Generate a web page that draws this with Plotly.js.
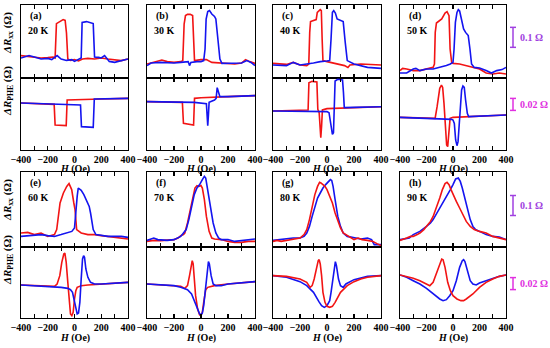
<!DOCTYPE html>
<html><head><meta charset="utf-8">
<script src="https://cdn.plot.ly/plotly-3.0.1.min.js"></script>
<style>html,body{margin:0;padding:0;background:#fff}#chart{width:550px;height:348px}</style>
</head><body><div id="chart"></div>
<script>
// ---------- data (H in Oe, resistance change in Ω) ----------
const panelIds = ['(a)','(b)','(c)','(d)','(e)','(f)','(g)','(h)'];
const temps = ['20 K','30 K','40 K','50 K','60 K','70 K','80 K','90 K'];
const tickVals = [-400,-200,0,200,400];
const tickText = ['\u2212400','\u2212200','0','200','400'];

// (a) 20 K
const H_a_xx_r = [-400,-350,-300,-250,-200,-160,-145,-135,-110,-85,-70,-60,-50,-30,0,30,60,100,150,200,250,300,350,400];
const a_xx_r = [0.112,0.108,0.105,0.100,0.102,0.105,0.100,0.272,0.282,0.292,0.288,0.225,0.095,0.088,0.092,0.085,0.095,0.098,0.095,0.100,0.095,0.092,0.087,0.095];
const H_a_xx_b = [-400,-370,-340,-300,-250,-200,-170,-130,-100,-60,-20,0,30,50,57,90,140,150,180,200,225,240,260,300,350,400];
const a_xx_b = [0.100,0.105,0.112,0.105,0.095,0.098,0.092,0.112,0.095,0.088,0.092,0.083,0.092,0.100,0.278,0.282,0.272,0.105,0.103,0.100,0.112,0.098,0.083,0.078,0.088,0.095];
const H_a_phe_r = [-400,-152,-145,-62,-55,0,200,400];
const a_phe_r = [0.0783,0.0761,0.0417,0.0406,0.0833,0.0839,0.0850,0.0861];
const H_a_phe_b = [-400,-200,0,45,52,140,148,200,400];
const a_phe_b = [0.0783,0.0772,0.0761,0.0750,0.0389,0.0378,0.0850,0.0850,0.0861];

// (b) 30 K
const H_b_xx_r = [-400,-350,-290,-250,-200,-150,-135,-125,-115,-100,-80,-62,-55,-48,0,40,80,150,250,300,330,360,400];
const b_xx_r = [0.070,0.078,0.090,0.082,0.078,0.082,0.087,0.270,0.312,0.318,0.318,0.312,0.195,0.087,0.092,0.092,0.078,0.075,0.070,0.075,0.092,0.082,0.073];
const H_b_xx_b = [-400,-370,-300,-200,-150,-95,-85,-75,-30,0,20,30,38,50,63,80,100,110,125,140,155,200,300,340,370,400];
const b_xx_b = [0.062,0.075,0.078,0.075,0.078,0.082,0.062,0.078,0.082,0.082,0.087,0.145,0.295,0.332,0.337,0.320,0.308,0.295,0.195,0.095,0.073,0.073,0.075,0.087,0.078,0.062];
const H_b_phe_r = [-400,-138,-130,-55,-48,0,200,400];
const b_phe_r = [0.0806,0.0794,0.0444,0.0417,0.0861,0.0872,0.0889,0.0906];
const H_b_phe_b = [-400,-50,40,45,50,55,60,100,112,120,128,140,200,400];
const b_phe_b = [0.0806,0.0794,0.0772,0.0583,0.0406,0.0583,0.0794,0.0833,0.0861,0.1039,0.0972,0.0889,0.0889,0.0906];

// (c) 40 K
const H_c_xx_r = [-400,-300,-250,-200,-150,-135,-128,-122,-80,-72,-50,-42,-36,-30,0,40,80,130,155,170,250,400];
const c_xx_r = [0.073,0.068,0.078,0.065,0.062,0.070,0.228,0.282,0.292,0.328,0.342,0.337,0.195,0.087,0.082,0.075,0.070,0.062,0.053,0.065,0.070,0.065];
const H_c_xx_b = [-400,-300,-250,-200,-100,-50,0,20,30,40,50,62,75,100,120,135,150,200,250,300,400];
const c_xx_b = [0.065,0.062,0.078,0.065,0.075,0.082,0.085,0.087,0.195,0.328,0.337,0.325,0.295,0.287,0.282,0.178,0.087,0.070,0.062,0.053,0.048];
const H_c_phe_r = [-400,-150,-140,-134,-110,-75,-68,-58,-52,-46,-40,-34,0,100,200,400];
const c_phe_r = [0.0650,0.0656,0.0667,0.1122,0.1144,0.1133,0.0678,0.0622,0.0289,0.0206,0.0400,0.0667,0.0689,0.0700,0.0711,0.0722];
const H_c_phe_b = [-400,-200,0,15,25,40,48,55,60,80,115,122,128,200,400];
const c_phe_b = [0.0650,0.0644,0.0639,0.0622,0.0456,0.0261,0.0289,0.0678,0.1150,0.1178,0.1167,0.0956,0.0706,0.0711,0.0722];

// (d) 50 K
const H_d_xx_r = [-400,-380,-350,-300,-250,-200,-150,-140,-134,-125,-85,-60,-45,-30,-22,-10,0,50,100,150,200,250,300,350,400];
const d_xx_r = [0.037,0.048,0.045,0.037,0.037,0.045,0.053,0.070,0.228,0.275,0.295,0.325,0.332,0.312,0.145,0.078,0.073,0.070,0.062,0.053,0.045,0.025,0.020,0.025,0.020];
const H_d_xx_b = [-400,-350,-300,-280,-250,-200,-150,-100,-50,-20,0,8,18,30,40,50,65,80,95,115,128,140,160,200,250,290,330,370,400];
const d_xx_b = [0.025,0.025,0.045,0.048,0.037,0.045,0.045,0.053,0.062,0.070,0.078,0.145,0.278,0.328,0.342,0.335,0.295,0.245,0.228,0.212,0.145,0.070,0.053,0.050,0.037,0.025,0.037,0.042,0.053];
const H_d_phe_r = [-400,-150,-135,-120,-100,-87,-78,-68,-58,-48,-40,-32,-22,0,200,400];
const d_phe_r = [0.0544,0.0522,0.0528,0.0722,0.1028,0.1083,0.1044,0.0778,0.0389,0.0083,0.0056,0.0278,0.0528,0.0544,0.0567,0.0583];
const H_d_phe_b = [-400,-200,-50,-10,0,10,20,30,38,45,55,65,75,85,95,108,118,200,400];
const d_phe_b = [0.0544,0.0528,0.0517,0.0511,0.0500,0.0444,0.0167,0.0072,0.0139,0.0389,0.0722,0.1000,0.1067,0.1044,0.0833,0.0611,0.0556,0.0567,0.0583];

// (e) 60 K
const H_e_xx_r = [-400,-350,-300,-250,-200,-150,-133,-120,-108,-83,-58,-41,-21,-5,4,16,30,50,100,150,200,250,300,350,400];
const e_xx_r = [0.070,0.073,0.062,0.070,0.053,0.062,0.087,0.153,0.220,0.270,0.303,0.317,0.287,0.220,0.187,0.087,0.078,0.070,0.062,0.062,0.057,0.053,0.050,0.045,0.040];
const H_e_xx_b = [-400,-300,-250,-200,-150,-100,-50,-20,0,10,20,28,40,50,70,90,110,120,140,160,200,250,300,350,400];
const e_xx_b = [0.053,0.057,0.062,0.057,0.053,0.062,0.070,0.078,0.095,0.187,0.253,0.295,0.290,0.283,0.262,0.228,0.203,0.170,0.087,0.062,0.057,0.053,0.053,0.053,0.048];
const H_e_phe_r = [-400,-150,-130,-110,-95,-80,-72,-62,-50,-40,-30,-20,-10,0,10,20,50,100,200,400];
const e_phe_r = [0.0550,0.0528,0.0567,0.0706,0.0928,0.1067,0.1083,0.0928,0.0594,0.0261,0.0067,0.0039,0.0094,0.0317,0.0456,0.0511,0.0539,0.0550,0.0567,0.0594];
const H_e_phe_b = [-400,-200,-100,-50,-30,-15,0,10,20,30,40,50,60,68,75,85,100,120,150,200,400];
const e_phe_b = [0.0550,0.0528,0.0511,0.0494,0.0472,0.0428,0.0261,0.0122,0.0067,0.0083,0.0261,0.0650,0.0983,0.1039,0.1011,0.0817,0.0678,0.0594,0.0567,0.0567,0.0594];

// (f) 70 K
const H_f_xx_r = [-400,-350,-300,-250,-200,-170,-150,-130,-120,-100,-80,-60,-45,-30,-15,0,10,25,40,60,80,100,150,200,250,300,350,400];
const f_xx_r = [0.028,0.033,0.032,0.033,0.037,0.045,0.057,0.062,0.070,0.120,0.187,0.253,0.295,0.307,0.303,0.307,0.295,0.237,0.153,0.078,0.045,0.040,0.037,0.028,0.023,0.023,0.028,0.028];
const H_f_xx_b = [-400,-350,-320,-250,-200,-150,-130,-110,-90,-70,-50,-30,-10,10,25,35,45,60,70,90,110,130,150,200,250,300,350,400];
const f_xx_b = [0.033,0.045,0.037,0.033,0.037,0.053,0.070,0.087,0.137,0.203,0.262,0.295,0.312,0.337,0.353,0.345,0.303,0.237,0.187,0.120,0.070,0.045,0.037,0.037,0.028,0.033,0.037,0.040];
const H_f_phe_r = [-400,-300,-200,-150,-120,-100,-85,-75,-65,-58,-50,-40,-25,-10,0,10,20,35,50,80,100,200,400];
const f_phe_r = [0.0567,0.0556,0.0539,0.0528,0.0494,0.0539,0.0706,0.0872,0.0956,0.0900,0.0650,0.0372,0.0150,0.0050,0.0050,0.0094,0.0261,0.0472,0.0511,0.0528,0.0539,0.0567,0.0606];
const H_f_phe_b = [-400,-200,-150,-100,-70,-50,-30,-10,0,10,20,35,45,55,62,75,90,110,150,200,400];
const f_phe_b = [0.0567,0.0539,0.0511,0.0472,0.0400,0.0289,0.0150,0.0067,0.0050,0.0083,0.0206,0.0539,0.0817,0.0939,0.0900,0.0706,0.0567,0.0539,0.0539,0.0567,0.0606];

// (g) 80 K
const H_g_xx_r = [-400,-370,-340,-300,-270,-250,-200,-170,-150,-130,-110,-90,-70,-55,-45,-30,-15,0,20,40,60,80,100,120,140,160,180,200,230,260,300,340,370,400];
const g_xx_r = [0.028,0.033,0.028,0.033,0.037,0.037,0.045,0.062,0.087,0.137,0.203,0.262,0.303,0.323,0.320,0.312,0.303,0.287,0.253,0.220,0.170,0.128,0.095,0.070,0.062,0.053,0.045,0.037,0.045,0.037,0.033,0.028,0.017,0.007];
const H_g_xx_b = [-400,-350,-300,-250,-200,-170,-150,-130,-110,-90,-70,-50,-30,-10,10,25,35,45,60,80,100,120,150,200,250,300,330,350,400];
const g_xx_b = [0.033,0.037,0.040,0.045,0.045,0.053,0.070,0.103,0.153,0.203,0.245,0.270,0.295,0.312,0.328,0.337,0.333,0.303,0.237,0.153,0.103,0.070,0.053,0.045,0.040,0.045,0.037,0.012,0.012];
const H_g_phe_r = [-400,-300,-200,-150,-125,-110,-95,-80,-65,-58,-50,-40,-30,-15,0,20,40,60,80,100,150,200,250,300,400];
const g_phe_r = [0.0706,0.0694,0.0650,0.0594,0.0511,0.0539,0.0650,0.0817,0.0956,0.0972,0.0900,0.0706,0.0428,0.0261,0.0194,0.0178,0.0194,0.0261,0.0344,0.0428,0.0539,0.0606,0.0650,0.0678,0.0706];
const H_g_phe_b = [-400,-300,-200,-150,-100,-80,-60,-40,-20,0,20,30,45,55,62,70,85,100,120,140,200,300,400];
const g_phe_b = [0.0706,0.0678,0.0606,0.0539,0.0428,0.0344,0.0272,0.0206,0.0178,0.0206,0.0289,0.0428,0.0706,0.0900,0.0939,0.0872,0.0650,0.0539,0.0511,0.0567,0.0639,0.0694,0.0706];

// (h) 90 K
const H_h_xx_r = [-400,-380,-350,-320,-300,-270,-250,-220,-200,-170,-150,-120,-100,-80,-60,-45,-30,-15,0,25,50,75,100,130,160,200,250,300,350,400];
const h_xx_r = [0.033,0.037,0.045,0.053,0.053,0.062,0.070,0.087,0.103,0.128,0.153,0.203,0.245,0.287,0.317,0.323,0.312,0.287,0.262,0.228,0.195,0.162,0.128,0.103,0.087,0.078,0.070,0.053,0.045,0.037];
const H_h_xx_b = [-400,-370,-330,-300,-250,-200,-170,-150,-120,-100,-70,-40,-20,0,20,40,55,70,90,110,130,150,170,200,250,300,350,400];
const h_xx_b = [0.037,0.040,0.045,0.062,0.078,0.103,0.120,0.137,0.170,0.195,0.228,0.262,0.287,0.312,0.340,0.345,0.328,0.295,0.237,0.187,0.137,0.103,0.087,0.078,0.062,0.053,0.050,0.037];
const H_h_phe_r = [-400,-350,-300,-250,-200,-175,-150,-120,-100,-85,-75,-60,-40,-20,0,30,60,80,100,150,200,250,300,350,400];
const h_phe_r = [0.0717,0.0694,0.0661,0.0622,0.0567,0.0539,0.0594,0.0761,0.0900,0.0983,0.0972,0.0844,0.0594,0.0456,0.0372,0.0317,0.0289,0.0289,0.0317,0.0400,0.0511,0.0594,0.0650,0.0694,0.0717];
const H_h_phe_b = [-400,-350,-300,-250,-200,-150,-100,-75,-50,-25,0,25,50,70,80,90,110,130,150,175,200,250,300,350,400];
const h_phe_b = [0.0717,0.0678,0.0622,0.0567,0.0494,0.0400,0.0317,0.0289,0.0306,0.0372,0.0456,0.0622,0.0844,0.0956,0.0972,0.0939,0.0789,0.0622,0.0567,0.0550,0.0583,0.0622,0.0661,0.0694,0.0717];

// scale bars (Ω)
const barXX = 0.1, barPHE = 0.02;

// ---------- assemble ----------
const series = [
  [[H_a_xx_r,a_xx_r],[H_a_xx_b,a_xx_b],[H_a_phe_r,a_phe_r],[H_a_phe_b,a_phe_b]],
  [[H_b_xx_r,b_xx_r],[H_b_xx_b,b_xx_b],[H_b_phe_r,b_phe_r],[H_b_phe_b,b_phe_b]],
  [[H_c_xx_r,c_xx_r],[H_c_xx_b,c_xx_b],[H_c_phe_r,c_phe_r],[H_c_phe_b,c_phe_b]],
  [[H_d_xx_r,d_xx_r],[H_d_xx_b,d_xx_b],[H_d_phe_r,d_phe_r],[H_d_phe_b,d_phe_b]],
  [[H_e_xx_r,e_xx_r],[H_e_xx_b,e_xx_b],[H_e_phe_r,e_phe_r],[H_e_phe_b,e_phe_b]],
  [[H_f_xx_r,f_xx_r],[H_f_xx_b,f_xx_b],[H_f_phe_r,f_phe_r],[H_f_phe_b,f_phe_b]],
  [[H_g_xx_r,g_xx_r],[H_g_xx_b,g_xx_b],[H_g_phe_r,g_phe_r],[H_g_phe_b,g_phe_b]],
  [[H_h_xx_r,h_xx_r],[H_h_xx_b,h_xx_b],[H_h_phe_r,h_phe_r],[H_h_phe_b,h_phe_b]]
];

const W = 550, HT = 348;
const colPx = [[21,128],[147,255],[273,381],[400,506]];
const rowPx = [[[5,78],[78,150]],[[172,247],[247,318]]];
const RED = '#f21414', BLUE = '#1414f0';
const FONT = 'Liberation Serif, Times New Roman, serif';
const px2x = p => p / W;
const px2y = p => 1 - p / HT;

const data = [];
const layout = {
  width: W, height: HT, margin: {l:0,r:0,t:0,b:0},
  paper_bgcolor: '#fff', plot_bgcolor: 'rgba(0,0,0,0)', showlegend: false,
  font: {family: FONT, size: 10, color: '#000', weight: 'bold'},
  annotations: [], shapes: []
};

for (let p = 0; p < 8; p++) {
  const col = p % 4, row = Math.floor(p / 4);
  const [xl, xr] = colPx[col];
  const iT = 2*p + 1, iB = 2*p + 2;
  const rT = rowPx[row][0], rB = rowPx[row][1];
  const order = p >= 6 ? [1,0] : [0,1];
  for (const k of order) {
    const s = series[p][k];
    data.push({x: s[0], y: s[1], type: 'scatter', mode: 'lines', xaxis: 'x'+iT, yaxis: 'y'+iT,
      line: {color: k === 0 ? RED : BLUE, width: 1.6}, hoverinfo: 'skip'});
  }
  for (const k of order) {
    const s = series[p][k+2];
    data.push({x: s[0], y: s[1], type: 'scatter', mode: 'lines', xaxis: 'x'+iB, yaxis: 'y'+iB,
      line: {color: k === 0 ? RED : BLUE, width: 1.6}, hoverinfo: 'skip'});
  }
  const xCommon = {domain: [px2x(xl), px2x(xr)], range: [-400, 400], showgrid: false, zeroline: false,
    showline: true, mirror: 'allticks', linecolor: '#000', linewidth: 1.2,
    ticks: 'inside', ticklen: 4, tickwidth: 1.2, tickcolor: '#000',
    tickmode: 'array', tickvals: tickVals, ticktext: tickText,
    minor: {ticks: 'inside', ticklen: 4, tickwidth: 1.2, tickcolor: '#000', dtick: 100, tick0: 0, showgrid: false},
    tickfont: {family: FONT, size: 10, weight: 'bold', color: '#000'}};
  layout['xaxis'+iT] = Object.assign({}, xCommon, {anchor: 'y'+iT, showticklabels: false});
  layout['xaxis'+iB] = Object.assign({}, xCommon, {anchor: 'y'+iB, showticklabels: true});
  const yCommon = {showgrid: false, zeroline: false, showline: true, mirror: true, linecolor: '#000',
    linewidth: 1.2, ticks: '', showticklabels: false};
  layout['yaxis'+iT] = Object.assign({}, yCommon, {anchor: 'x'+iT,
    domain: [px2y(rT[1]), px2y(rT[0])], range: [0, (rT[1]-rT[0])/200]});
  layout['yaxis'+iB] = Object.assign({}, yCommon, {anchor: 'x'+iB,
    domain: [px2y(rB[1]), px2y(rB[0])], range: [0, (rB[1]-rB[0])/600]});

  // x-axis title below each panel
  layout.annotations.push({text: '<i>H</i> (Oe)', xref: 'paper', yref: 'paper', x: px2x((xl+xr)/2),
    y: px2y(rB[1] + (row === 0 ? 18.5 : 20)), xanchor: 'center', yanchor: 'middle', showarrow: false,
    font: {family: FONT, size: 10, weight: 'bold'}});

  // panel letter and temperature
  layout.annotations.push({text: panelIds[p], xref: 'paper', yref: 'paper', x: px2x(xl+7), y: px2y(rT[0]+11),
    xanchor: 'left', yanchor: 'middle', showarrow: false, font: {family: FONT, size: 10, weight: 'bold'}});
  layout.annotations.push({text: temps[p], xref: 'paper', yref: 'paper', x: px2x(xl+5), y: px2y(rT[0]+25),
    xanchor: 'left', yanchor: 'middle', showarrow: false, font: {family: FONT, size: 10, weight: 'bold'}});

  // y titles in first column
  if (col === 0) {
    layout.annotations.push({text: '<i>ΔR</i><sub>xx</sub> (Ω)', xref: 'paper', yref: 'paper', x: px2x(8),
      y: px2y(rT[0]+28), textangle: -90, showarrow: false, xanchor: 'center', yanchor: 'middle',
      font: {family: FONT, size: 11, weight: 'bold'}});
    layout.annotations.push({text: '<i>ΔR</i><sub>PHE</sub> (Ω)', xref: 'paper', yref: 'paper', x: px2x(8),
      y: px2y(rB[0]+13), textangle: -90, showarrow: false, xanchor: 'center', yanchor: 'middle',
      font: {family: FONT, size: 11, weight: 'bold'}});
  }

  // scale bars in last column
  if (col === 3) {
    const bars = [
      {ax: 'y'+iT, y0: (rT[1]-rT[0])/200*0.42, len: barXX, color: '#a040e0', label: '0.1 Ω'},
      {ax: 'y'+iB, y0: (rB[1]-rB[0])/600*(row===0?0.55:0.40), len: barPHE, color: '#e030e0', label: '0.02 Ω'}
    ];
    const bx = px2x(xr + 7), cap = 3 / W;
    for (const b of bars) {
      const ln = {color: b.color, width: 1.5};
      layout.shapes.push({type: 'line', xref: 'paper', yref: b.ax, x0: bx, x1: bx, y0: b.y0, y1: b.y0 + b.len, line: ln});
      layout.shapes.push({type: 'line', xref: 'paper', yref: b.ax, x0: bx-cap, x1: bx+cap, y0: b.y0, y1: b.y0, line: ln});
      layout.shapes.push({type: 'line', xref: 'paper', yref: b.ax, x0: bx-cap, x1: bx+cap, y0: b.y0+b.len, y1: b.y0+b.len, line: ln});
      layout.annotations.push({text: b.label, xref: 'paper', yref: b.ax, x: px2x(xr + 12), y: b.y0 + b.len/2,
        xanchor: 'left', yanchor: 'middle', showarrow: false,
        font: {family: FONT, size: 10, weight: 'bold', color: b.color}});
    }
  }
}

Plotly.newPlot('chart', data, layout, {displayModeBar: false, staticPlot: true});
</script></body></html>
